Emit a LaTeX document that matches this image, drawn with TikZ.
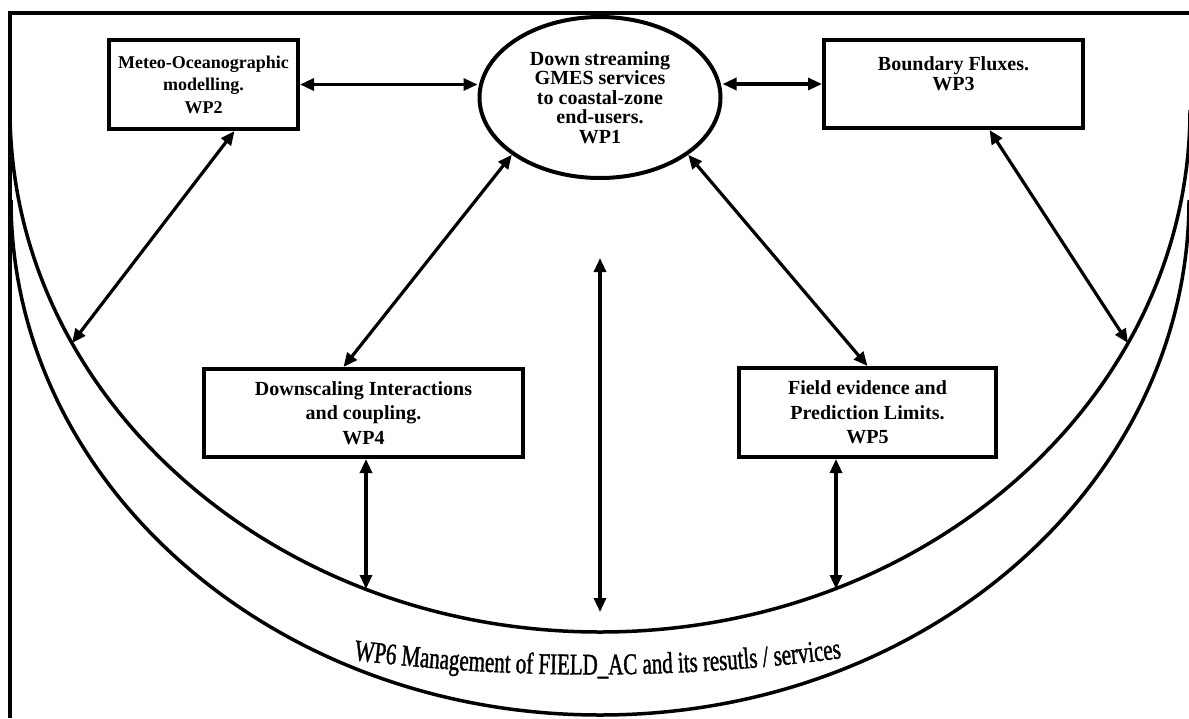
\documentclass[tikz,border=0pt]{standalone}
\usepackage{fontspec}
\setmainfont{Liberation Serif}
\newfontfamily\wpsixfont[FakeStretch=0.7,FakeBold=1.2]{Liberation Serif}
\usetikzlibrary{arrows.meta,shapes.geometric,decorations.text}
\begin{document}
\begin{tikzpicture}[x=1pt,y=-1pt,
  wpbox/.style={draw, line width=4pt, rectangle, align=center, inner sep=0pt, font=\bfseries\fontsize{20}{24.5}\selectfont},
  wpell/.style={draw, line width=4pt, ellipse, align=center, inner sep=0pt, font=\bfseries\fontsize{20}{19.5}\selectfont},
  conn/.style={line width=3.2pt, {Triangle[length=14pt,width=12pt]}-{Triangle[length=14pt,width=12pt]}},
  arcline/.style={line width=3.5pt},
  frameline/.style={line width=4.5pt, line join=miter}]
\useasboundingbox (0,0) rectangle (1189,718);

% big arcs
\begin{scope}
  \clip (10,0) rectangle (1189,718);
  \draw[arcline] (10,110) arc[start angle=180, end angle=360, x radius=590pt, y radius=522pt];
  \draw[arcline] (11,200) arc[start angle=180, end angle=360, x radius=589pt, y radius=515pt];
\end{scope}

% frame
\draw[frameline] (1189,13) -- (10,13) -- (10,718);

% nodes
\node[wpell, minimum width=241pt, minimum height=161pt] (wp1) at (600,97.5)
  {Down streaming\\GMES services\\to coastal-zone\\end-users.\\WP1};
\node[wpbox, minimum width=189pt, minimum height=89pt, font=\bfseries\fontsize{18}{22.5}\selectfont] (wp2) at (203.5,84.5)
  {Meteo-Oceanographic\\modelling.\\WP2};
\node[wpbox, minimum width=259pt, minimum height=88pt, font=\bfseries\fontsize{20}{20.5}\selectfont] (wp3) at (953.5,84)
  {Boundary Fluxes.\\WP3\\~};
\node[wpbox, minimum width=319pt, minimum height=88pt] (wp4) at (363.5,413)
  {Downscaling Interactions\\and coupling.\\WP4};
\node[wpbox, minimum width=257pt, minimum height=89pt] (wp5) at (867.5,412.5)
  {Field evidence and\\Prediction Limits.\\WP5};

% points on the inner arc
\coordinate (p2) at (72,343);
\coordinate (p3) at (1128,343);
\coordinate (p4) at (366,589);
\coordinate (p5) at (836,589);
\coordinate (ctop) at (600,258);
\coordinate (cbot) at (600,612);

% connectors
\draw[conn] (wp2.east) -- (wp2.east -| wp1.west);
\draw[conn] (wp3.west -| wp1.east) -- (wp3.west);
\draw[conn] (wp1.213) -- ([xshift=-20pt]wp4.north);
\draw[conn] (wp1.327) -- (wp5.north);
\draw[conn] ([xshift=31pt]wp2.south) -- (p2);
\draw[conn] ([xshift=36pt]wp3.south) -- (p3);
\draw[conn] (wp4.south -| p4) -- (p4);
\draw[conn] (wp5.south -| p5) -- (p5);
\draw[conn] (ctop) -- (cbot);

% WP6 label along an arc
\path[decorate, decoration={text along path, text align=center,
  text={|\wpsixfont\fontsize{30}{30}\selectfont|WP6 Management of FIELD{\_}AC and its resutls / services}}]
  (345,659) .. controls (513,680) and (682,680) .. (850,657);
\end{tikzpicture}
\end{document}
